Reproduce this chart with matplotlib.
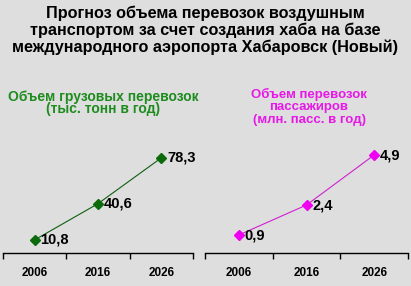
import matplotlib
matplotlib.use("Agg")
import matplotlib.pyplot as plt

years = ["2006", "2016", "2026"]
cargo = [10.8, 40.6, 78.3]
cargo_labels = ["10,8", "40,6", "78,3"]
passengers = [0.9, 2.4, 4.9]
passenger_labels = ["0,9", "2,4", "4,9"]

title_lines = ["Прогноз объема перевозок воздушным",
               "транспортом за счет создания хаба на базе",
               "международного аэропорта Хабаровск (Новый)"]
cargo_title = ["Объем грузовых перевозок", "(тыс. тонн в год)"]
pass_title = ["Объем перевозок", "пассажиров", "(млн. пасс. в год)"]

BG = "#DEDEDE"
W, H = 411, 286
plt.rcParams['font.family'] = ['Liberation Sans', 'DejaVu Sans']

fig = plt.figure(figsize=(W / 100, H / 100), dpi=100, facecolor=BG)

def px_axes(x0, x1, ytop, ybot):
    return fig.add_axes([x0 / W, 1 - ybot / H, (x1 - x0) / W, (ybot - ytop) / H])

ax1 = px_axes(3, 193, 130, 253)
ax2 = px_axes(205, 408, 130, 253)

def style(ax, values, labels, color, mcolor, ymax):
    ax.set_facecolor(BG)
    x = range(len(values))
    ax.plot(x, values, color=color, lw=0.8, marker='D', markersize=5.5,
            markerfacecolor=mcolor, markeredgecolor=mcolor, clip_on=False)
    for xi, v, lab in zip(x, values, labels):
        ax.annotate(lab, (xi, v), xytext=(4, 0), textcoords='offset points',
                    ha='left', va='center', fontsize=10.5, fontweight='bold',
                    color='black')
    ax.set_xlim(-0.5, len(values) - 0.5)
    ax.set_ylim(0, ymax)
    for s in ['top', 'right', 'left']:
        ax.spines[s].set_visible(False)
    ax.spines['bottom'].set_color('black')
    ax.spines['bottom'].set_linewidth(1.0)
    ax.set_yticks([])
    ax.set_xticks(list(x))
    ax.set_xticklabels(years, fontsize=8.5, fontweight='bold')
    ax.tick_params(axis='x', which='major', length=0, pad=10)
    ax.set_xticks([i - 0.5 for i in range(len(values) + 1)], minor=True)
    ax.tick_params(axis='x', which='minor', length=4, width=1, color='black',
                   direction='out')

style(ax1, cargo, cargo_labels, '#0E5E0E', '#0B6B0B', 123 / 1.215)
style(ax2, passengers, passenger_labels, '#D020D0', '#F000F0', 123 / 20)

for i, line in enumerate(title_lines):
    fig.text(205 / W, 1 - (13 + 17 * i) / H, line, ha='center', va='center',
             fontsize=11.7, fontweight='bold', color='black')

for i, line in enumerate(cargo_title):
    fig.text(103 / W, 1 - (96.5 + 12.9 * i) / H, line, ha='center', va='center',
             fontsize=10, fontweight='bold', color='#1E8C1E')

for i, line in enumerate(pass_title):
    fig.text(309 / W, 1 - (94.2 + 12.8 * i) / H, line, ha='center', va='center',
             fontsize=9.5, fontweight='bold', color='#E619E6')

fig.savefig("out.png", dpi=100, facecolor=BG)
